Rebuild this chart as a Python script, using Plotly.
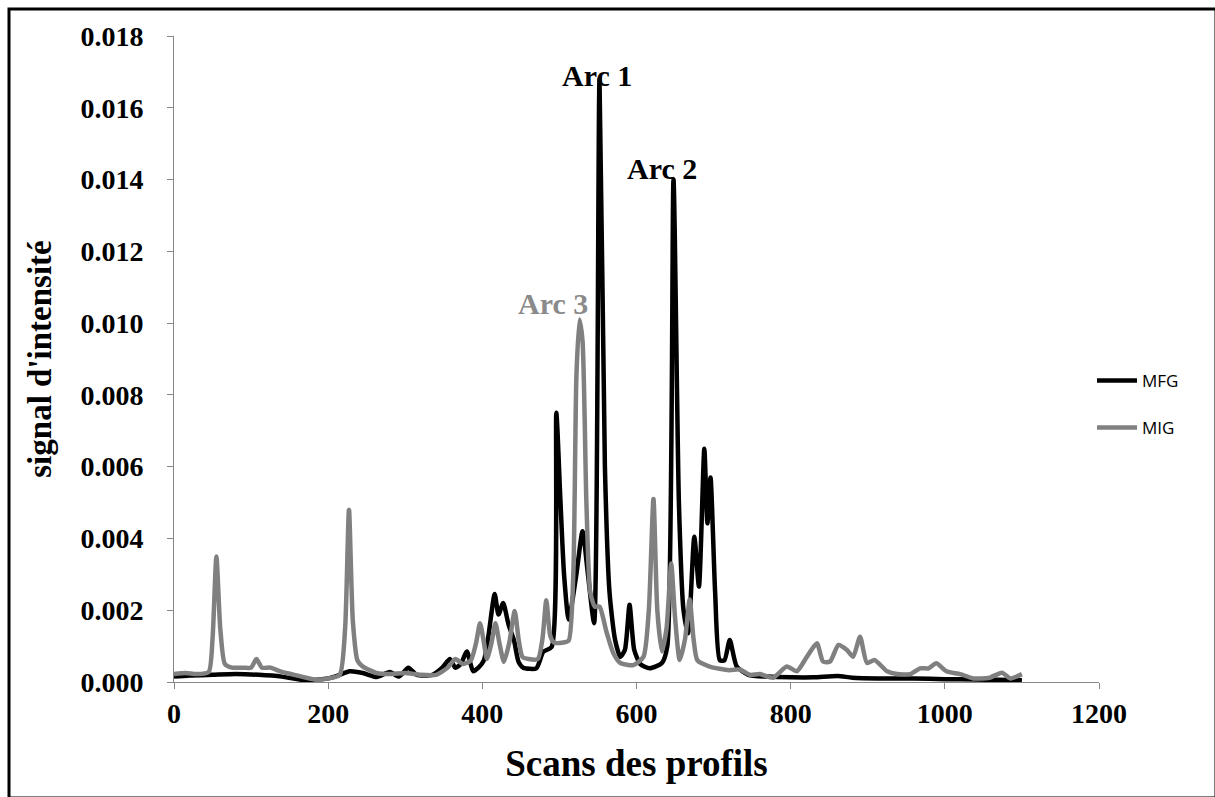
import plotly.graph_objects as go

# MFG (black) series: scan index, intensity
mfg_x = [0, 20, 50, 80, 110, 140, 170, 200, 215, 228, 245, 263, 280, 292, 304, 315, 335, 348, 358, 365,
         372, 380, 388, 395, 402, 408, 416, 421, 427, 434, 441, 447, 453, 470, 479, 490, 496, 501, 506, 512,
         522, 530, 537, 545, 552, 559, 565, 572, 579, 585, 591, 597, 605, 617, 633, 640, 648, 655, 661, 667,
         675, 681, 688, 692, 696, 702, 708, 714, 721, 730, 745, 770, 800, 830, 861, 880, 920, 960, 1000, 1040,
         1070, 1100]
mfg_y = [0.00015, 0.00018, 0.0002, 0.00022, 0.0002, 0.00015, 0.00005, 0.0001, 0.0002, 0.0003, 0.00025, 0.00014,
         0.00028, 0.00015, 0.0004, 0.0002, 0.0002, 0.0004, 0.00064, 0.0004, 0.0005, 0.00085, 0.0003, 0.0004,
         0.0006, 0.0013, 0.00245, 0.00188, 0.0022, 0.0016, 0.00117, 0.00056, 0.0004, 0.00038, 0.00084, 0.00098,
         0.0075, 0.0052, 0.0030, 0.00174, 0.0030, 0.0042, 0.0030, 0.00164, 0.0168, 0.0060, 0.0025, 0.0012,
         0.0007, 0.0009, 0.00215, 0.0009, 0.0005, 0.00038, 0.00053, 0.0010, 0.0140, 0.0050, 0.0020, 0.00136,
         0.00405, 0.00266, 0.0065, 0.00442, 0.0057, 0.0025, 0.00061, 0.0006, 0.00117, 0.00043, 0.0002, 0.00015,
         0.00013, 0.00013, 0.00017, 0.00012, 0.0001, 0.0001, 0.00008, 0.00007, 0.00006, 0.00005]

# MIG (grey) series
mig_x = [0, 15, 30, 45, 50, 55, 60, 66, 75, 90, 100, 107, 114, 125, 140, 160, 185, 200, 215, 222, 227, 232,
         238, 245, 263, 280, 300, 320, 340, 355, 365, 375, 385, 392, 397, 402, 406, 412, 417, 422, 428, 435,
         442, 447, 452, 460, 472, 478, 483, 488, 493, 505, 512, 518, 522, 526, 530, 535, 540, 546, 552, 561,
         570, 579, 596, 609, 616, 622, 627, 633, 639, 645, 650, 656, 663, 669, 674, 679, 695, 720, 734, 747,
         760, 777, 795, 808, 821, 834, 842, 851, 862, 873, 881, 890, 899, 909, 925, 938, 955, 968, 979, 989,
         1002, 1020, 1037, 1058, 1074, 1085, 1100]
mig_y = [0.00022, 0.00025, 0.00022, 0.00028, 0.0012, 0.0035, 0.0015, 0.0005, 0.0004, 0.0004, 0.0004, 0.00064,
         0.0004, 0.0004, 0.00028, 0.00018, 0.00006, 0.0001, 0.0002, 0.0015, 0.0048, 0.0017, 0.0006, 0.00043,
         0.00025, 0.00022, 0.00025, 0.0002, 0.0002, 0.0004, 0.00064, 0.0005, 0.0006, 0.0011, 0.00164, 0.0011,
         0.00064, 0.0011, 0.00164, 0.0011, 0.00056, 0.0011, 0.00198, 0.0012, 0.0007, 0.00064, 0.00064, 0.0012,
         0.00228, 0.0013, 0.0011, 0.0011, 0.00115, 0.003, 0.0085, 0.0101, 0.0095, 0.005, 0.0025, 0.0021,
         0.0021, 0.0014, 0.0008, 0.00053, 0.00047, 0.0007, 0.002, 0.0051, 0.002, 0.00085, 0.0015, 0.0033,
         0.0018, 0.00061, 0.0012, 0.0023, 0.0012, 0.0006, 0.00043, 0.00033, 0.00035, 0.0002, 0.00022, 0.00012,
         0.00043, 0.0003, 0.0007, 0.00108, 0.00057, 0.00057, 0.00103, 0.00089, 0.0007, 0.00126, 0.00053,
         0.00061, 0.0003, 0.00022, 0.00022, 0.00038, 0.00038, 0.00052, 0.0003, 0.00022, 0.0001, 0.00012,
         0.00026, 0.0001, 0.00022]

y_ticks = [0.000, 0.002, 0.004, 0.006, 0.008, 0.010, 0.012, 0.014, 0.016, 0.018]
x_ticks = [0, 200, 400, 600, 800, 1000, 1200]

# peak annotations: label, x, y, colour
ann_labels = ["Arc 1", "Arc 2", "Arc 3"]
ann_x = [549, 633, 492]
ann_y = [0.0169, 0.0143, 0.01056]
ann_col = ["#000000", "#000000", "#8a8a8a"]

BLACK = "#000000"
GREY = "#808080"
AXIS = "#868686"
SERIF = "Liberation Serif, Times New Roman, serif"
SANS = "Open Sans, Liberation Sans, sans-serif"

W, H = 1215, 797
L, R, T, B = 174, 116, 36, 115
pw, ph = W - L - R, H - T - B

fig = go.Figure()
fig.add_trace(go.Scatter(x=mfg_x, y=mfg_y, mode="lines", name="MFG", legend="legend",
                         line=dict(color=BLACK, width=4.5, shape="spline", smoothing=0.6)))
fig.add_trace(go.Scatter(x=mig_x, y=mig_y, mode="lines", name="MIG", legend="legend2",
                         line=dict(color=GREY, width=4.5, shape="spline", smoothing=0.6)))

for t, ax_, ay_, c in zip(ann_labels, ann_x, ann_y, ann_col):
    fig.add_annotation(x=ax_, y=ay_, text="<b>%s</b>" % t, showarrow=False,
                       font=dict(family=SERIF, size=30, color=c))

# outer border of the chart area
fig.add_shape(type="rect", xref="paper", yref="paper",
              x0=(9 - L) / pw, x1=(W + 1 - L) / pw,
              y0=(H - B - (H + 1)) / ph, y1=(H - B - 9) / ph,
              line=dict(color="#000000", width=3), fillcolor="rgba(0,0,0,0)", layer="below")

leg_common = dict(xanchor="left", yanchor="middle", bgcolor="rgba(0,0,0,0)",
                  font=dict(family=SANS, size=17, color="#000000"), itemwidth=40)

fig.update_layout(
    width=W, height=H,
    margin=dict(l=L, r=R, t=T, b=B, pad=0),
    paper_bgcolor="white", plot_bgcolor="white",
    showlegend=True,
    legend=dict(x=(1092 - L) / pw, y=(H - B - 381) / ph, **leg_common),
    legend2=dict(x=(1092 - L) / pw, y=(H - B - 428) / ph, **leg_common),
    xaxis=dict(range=[0, 1200], tickvals=x_ticks, ticktext=["<b>%d</b>" % v for v in x_ticks],
               showgrid=False, zeroline=False, showline=True, linecolor=AXIS, linewidth=1,
               ticks="outside", ticklen=6, tickcolor=AXIS, ticklabelstandoff=0,
               tickfont=dict(family=SERIF, size=28, color="#000000"),
               title=dict(text="<b>Scans des profils</b>", standoff=22,
                          font=dict(family=SERIF, size=37, color="#000000"))),
    yaxis=dict(range=[0, 0.018], tickvals=y_ticks, ticktext=["<b>%.3f</b>" % v for v in y_ticks],
               showgrid=False, zeroline=False, showline=True, linecolor=AXIS, linewidth=1,
               ticks="outside", ticklen=6, tickcolor=AXIS, ticklabelstandoff=18,
               tickfont=dict(family=SERIF, size=28, color="#000000"),
               title=dict(text="<b>signal d'intensité</b>", standoff=18,
                          font=dict(family=SERIF, size=33, color="#000000"))),
)

fig.write_html("out.html")
